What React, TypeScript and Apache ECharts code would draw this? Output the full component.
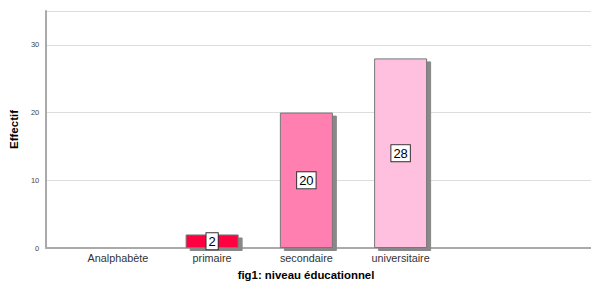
import React, { useEffect, useRef } from "react";
import * as echarts from "echarts";

const categories = ["Analphabète", "primaire", "secondaire", "universitaire"];
const values = [0, 2, 20, 28];
const colors = ["#ff0040", "#ff0040", "#ff80b0", "#ffc0e0"];
const yTicks = [0, 10, 20, 30];

export default function App() {
  const ref = useRef<HTMLDivElement>(null);
  useEffect(() => {
    if (!ref.current) return;
    const chart = echarts.init(ref.current, null, { renderer: "svg" });
    chart.setOption({
      animation: false,
      backgroundColor: "#ffffff",
      title: {
        text: "fig1: niveau éducationnel",
        left: 306,
        top: 269,
        textAlign: "center",
        textStyle: { fontFamily: "Liberation Sans", fontSize: 11.4, fontWeight: "bold", color: "#000" },
        padding: 0,
      },
      grid: { left: 43, right: 0, top: 11, bottom: 33 },
      xAxis: {
        type: "value",
        min: -0.76,
        max: 5.02,
        axisLine: { show: true, onZero: false, lineStyle: { color: "#aaaaaa", width: 2 } },
        axisTick: { show: false },
        splitLine: { show: false },
        axisLabel: {
          customValues: [0, 1, 2, 3],
          formatter: (v: number) => categories[Math.round(v)] ?? "",
          fontFamily: "Liberation Sans",
          fontSize: 10.8,
          color: "#333333",
          margin: 4,
        },
      },
      yAxis: {
        type: "value",
        min: 0,
        max: 35,
        interval: 10,
        name: "Effectif",
        nameLocation: "middle",
        nameGap: 26,
        nameTextStyle: { fontFamily: "Liberation Sans", fontSize: 11.5, fontWeight: "bold", color: "#000" },
        axisLine: { show: true, onZero: false, lineStyle: { color: "#aaaaaa", width: 2 } },
        axisTick: { show: false },
        axisLabel: {
          customValues: yTicks,
          fontFamily: "Liberation Sans",
          fontSize: 7.5,
          color: "#444444",
          margin: 7,
        },
        splitLine: { show: true, lineStyle: { color: "#dddddd", width: 1 } },
      },
      series: [
        {
          type: "bar",
          barWidth: 53,
          data: values.map((v, i) => ({
            value: [i, v],
            itemStyle: { color: colors[i] },
            label: { show: v > 0 },
          })),
          itemStyle: {
            borderColor: "#777",
            borderWidth: 1,
            shadowColor: "#888888",
            shadowOffsetX: 4,
            shadowOffsetY: 3,
            shadowBlur: 0,
          },
          label: {
            position: "inside",
            formatter: (p: any) => String(p.value[1]),
            fontFamily: "Liberation Sans",
            fontSize: 13,
            color: "#000",
            backgroundColor: "#ffffff",
            borderColor: "#333",
            borderWidth: 1,
            padding: [2, 2, 1, 2],
          },
        },
      ],
    });
    return () => chart.dispose();
  }, []);
  return <div ref={ref} style={{ width: 591, height: 281, position: "absolute", left: 0, top: 0 }} />;
}
